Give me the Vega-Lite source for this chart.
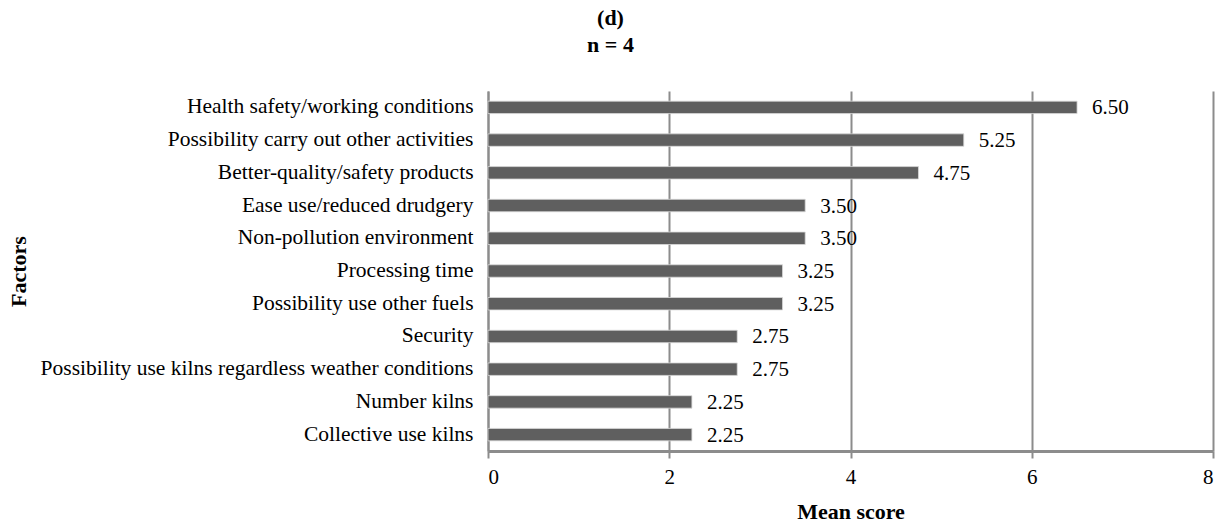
{
  "$schema": "https://vega.github.io/schema/vega-lite/v6.json",
  "width": 725,
  "height": 360,
  "autosize": {"type": "none"},
  "padding": {"left": 488, "top": 91, "right": 19, "bottom": 75},
  "background": "white",
  "title": {
    "text": ["(d)", "n = 4"],
    "font": "Liberation Serif",
    "fontSize": 22,
    "fontWeight": "bold",
    "color": "black",
    "lineHeight": 27,
    "anchor": "middle",
    "dx": -240,
    "offset": 34
  },
  "config": {
    "view": {"stroke": null},
    "font": "Liberation Serif"
  },
  "data": {
    "values": [
      {"factor": "Health safety/working conditions", "score": 6.50},
      {"factor": "Possibility carry out other activities", "score": 5.25},
      {"factor": "Better-quality/safety products", "score": 4.75},
      {"factor": "Ease use/reduced drudgery", "score": 3.50},
      {"factor": "Non-pollution environment", "score": 3.50},
      {"factor": "Processing time", "score": 3.25},
      {"factor": "Possibility use other fuels", "score": 3.25},
      {"factor": "Security", "score": 2.75},
      {"factor": "Possibility use kilns regardless weather conditions", "score": 2.75},
      {"factor": "Number kilns", "score": 2.25},
      {"factor": "Collective use kilns", "score": 2.25}
    ]
  },
  "encoding": {
    "y": {
      "field": "factor",
      "type": "nominal",
      "sort": null,
      "scale": {"paddingInner": 0.62, "paddingOuter": 0.31},
      "axis": {
        "title": "Factors",
        "titleFont": "Liberation Serif",
        "titleFontSize": 22,
        "titleFontWeight": "bold",
        "titleColor": "black",
        "titleAngle": -90,
        "titleX": -470,
        "titleY": 180,
        "titleAlign": "center",
        "titleBaseline": "middle",
        "labelFont": "Liberation Serif",
        "labelFontSize": 21.5,
        "labelColor": "black",
        "labelPadding": 15,
        "labelLimit": 600,
        "ticks": false,
        "domainColor": "#8c8c8c",
        "domainWidth": 2,
        "grid": false
      }
    },
    "x": {
      "field": "score",
      "type": "quantitative",
      "scale": {"domain": [0, 8], "nice": false},
      "axis": {
        "title": "Mean score",
        "titleFont": "Liberation Serif",
        "titleFontSize": 22,
        "titleFontWeight": "bold",
        "titleColor": "black",
        "titlePadding": 14,
        "values": [0, 2, 4, 6, 8],
        "format": "d",
        "labelFont": "Liberation Serif",
        "labelFontSize": 21,
        "labelColor": "black",
        "labelPadding": 8,
        "tickColor": "#8c8c8c",
        "tickSize": 7,
        "tickWidth": 2,
        "domainColor": "#8c8c8c",
        "domainWidth": 3,
        "grid": true,
        "gridColor": "#8c8c8c",
        "gridWidth": 2
      }
    }
  },
  "layer": [
    {
      "mark": {"type": "bar", "color": "#5f5f5f", "stroke": "#d9d9d9", "strokeWidth": 0.8}
    },
    {
      "mark": {"type": "text", "align": "left", "baseline": "middle", "dx": 15, "dy": 1, "font": "Liberation Serif", "fontSize": 21, "color": "black"},
      "encoding": {
        "text": {"field": "score", "type": "quantitative", "format": ".2f"}
      }
    }
  ]
}
